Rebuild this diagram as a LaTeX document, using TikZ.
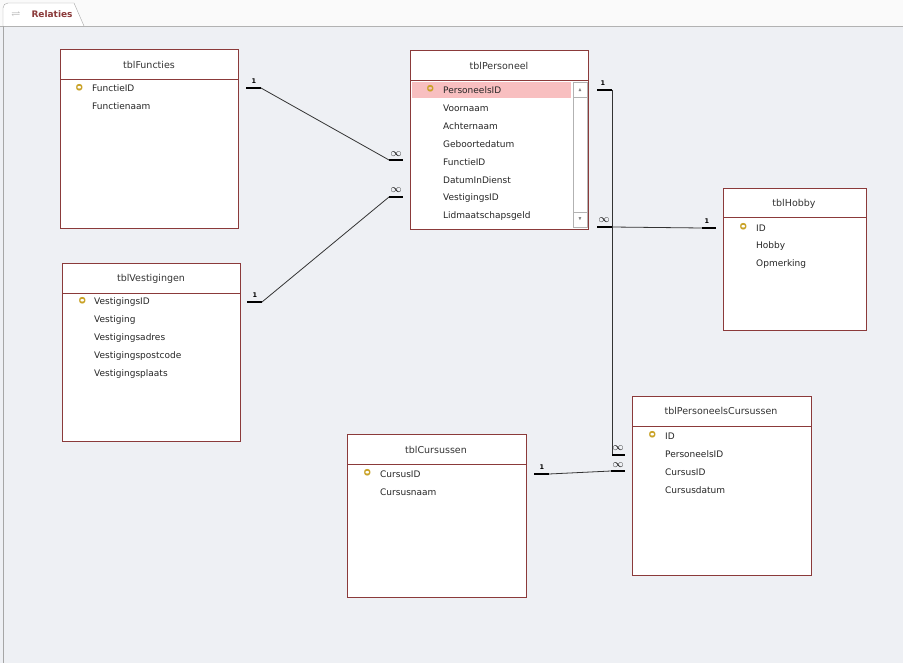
\documentclass[tikz,border=0pt]{standalone}
\usepackage{amssymb}
\usepackage{fontspec}
\setmainfont{DejaVu Sans}
\begin{document}
\begin{tikzpicture}[x=1pt,y=-1pt,
  tbl/.style={draw=brd,fill=white,line width=0.8pt},
  hdr/.style={font=\fontsize{9.5}{11}\selectfont,text=black!80},
  fld/.style={anchor=west,font=\fontsize{9}{11}\selectfont,inner sep=0pt,text=black!85},
  key/.style={anchor=west,font=\bfseries\fontsize{11}{11}\selectfont,inner sep=0pt,text=keyc},
  stub/.style={line width=2.4pt},
  lnk/.style={line width=0.8pt,black!80},
  card/.style={font=\bfseries\fontsize{6.5}{7}\selectfont,inner sep=0pt},
  inf/.style={font=\bfseries\fontsize{11}{11}\selectfont,inner sep=0pt}]
\definecolor{brd}{HTML}{8B3A3A}
\definecolor{bg}{HTML}{EEF0F4}
\definecolor{keyc}{HTML}{C9A227}
\definecolor{hl}{HTML}{F8BFC0}
\useasboundingbox (0,0) rectangle (903,663);
\fill[bg] (0,0) rectangle (903,663);
\fill[white!96!gray] (0,0) rectangle (903,26);
\draw[gray!60] (0,26) -- (903,26);
\draw[gray!70,fill=white] (3,26) -- (3,8) to[out=90,in=180] (8,3) -- (74,3) -- (84,26);
\draw[gray!70] (3,26) -- (3,663);
\node[anchor=west,text=brd,font=\bfseries\fontsize{9}{10}\selectfont] (tab) at (28,14) {Relaties};
\node[font=\small,text=gray] (tabicon) at (16,14) {$\rightleftharpoons$};

% tblFuncties
\draw[tbl] (60,49) rectangle (238,228); \draw[brd] (60,79) -- (238,79);
\node[hdr] (fh) at (149,65) {tblFuncties};
\node[key] (fk) at (76,88) {\rotatebox{90}{o}};
\node[fld] (f1) at (92,88) {FunctieID};
\node[fld] (f2) at (92,106) {Functienaam};

% tblPersoneel
\draw[tbl] (410,50) rectangle (588,229); \draw[brd] (410,80) -- (588,80);
\node[hdr] (ph) at (499,66) {tblPersoneel};
\fill[hl] (412,82) rectangle (571,98);
\draw[gray!60,fill=white] (573,82) rectangle (587,227);
\draw[gray!60] (573,97) -- (587,97) (573,212) -- (587,212);
\node[font=\tiny,text=gray] (up) at (580,90) {$\blacktriangle$};
\node[font=\tiny,text=gray] (dn) at (580,219) {$\blacktriangledown$};
\node[key] (pk) at (427,89) {\rotatebox{90}{o}};
\foreach \t [count=\i from 0] in {PersoneelsID,Voornaam,Achternaam,Geboortedatum,FunctieID,DatumInDienst,VestigingsID,Lidmaatschapsgeld}
  \node[fld] (p\i) at (443,90+18*\i) {\t};

% tblHobby
\draw[tbl] (723,188) rectangle (866,330); \draw[brd] (723,217) -- (866,217);
\node[hdr] (hh) at (794,204) {tblHobby};
\node[key] (hk) at (740,227) {\rotatebox{90}{o}};
\foreach \t [count=\i from 0] in {ID,Hobby,Opmerking}
  \node[fld] (h\i) at (756,228+18*\i) {\t};

% tblVestigingen
\draw[tbl] (62,263) rectangle (240,441); \draw[brd] (62,293) -- (240,293);
\node[hdr] (vh) at (151,279) {tblVestigingen};
\node[key] (vk) at (79,301) {\rotatebox{90}{o}};
\foreach \t [count=\i from 0] in {VestigingsID,Vestiging,Vestigingsadres,Vestigingspostcode,Vestigingsplaats}
  \node[fld] (v\i) at (94,302+18*\i) {\t};

% tblCursussen
\draw[tbl] (347,434) rectangle (526,597); \draw[brd] (347,464) -- (526,464);
\node[hdr] (ch) at (436,450) {tblCursussen};
\node[key] (ck) at (364,473) {\rotatebox{90}{o}};
\foreach \t [count=\i from 0] in {CursusID,Cursusnaam}
  \node[fld] (c\i) at (380,474+18*\i) {\t};

% tblPersoneelsCursussen
\draw[tbl] (632,396) rectangle (811,575); \draw[brd] (632,426) -- (811,426);
\node[hdr] (qh) at (721,411) {tblPersoneelsCursussen};
\node[key] (qk) at (649,435) {\rotatebox{90}{o}};
\foreach \t [count=\i from 0] in {ID,PersoneelsID,CursusID,Cursusdatum}
  \node[fld] (q\i) at (665,436+18*\i) {\t};

% connectors
\coordinate (a1) at (246,88); \coordinate (a2) at (261,88);
\coordinate (a3) at (389,160); \coordinate (a4) at (403,160);
\draw[stub] (a1) -- (a2); \draw[lnk] (a2) -- (a3); \draw[stub] (a3) -- (a4);
\node[card] (a1c) at (254,81) {1}; \node[inf] (a4c) at (396,154) {$\infty$};

\coordinate (b1) at (247,302); \coordinate (b2) at (262,302);
\coordinate (b3) at (389,197); \coordinate (b4) at (403,197);
\draw[stub] (b1) -- (b2); \draw[lnk] (b2) -- (b3); \draw[stub] (b3) -- (b4);
\node[card] (b1c) at (255,295) {1}; \node[inf] (b4c) at (396,190) {$\infty$};

\coordinate (d1) at (597,90); \coordinate (d2) at (612,90);
\coordinate (d3) at (612,455); \coordinate (d4) at (625,455);
\draw[stub] (d1) -- (d2); \draw[lnk] (d2) -- (d3); \draw[stub] (d3) -- (d4);
\node[card] (d1c) at (603,83) {1}; \node[inf] (d4c) at (618,448) {$\infty$};

\coordinate (e1) at (597,227); \coordinate (e2) at (612,227);
\coordinate (e3) at (702,228); \coordinate (e4) at (716,228);
\draw[stub] (e1) -- (e2); \draw[lnk] (e2) -- (e3); \draw[stub] (e3) -- (e4);
\node[inf] (e1c) at (604,220) {$\infty$}; \node[card] (e4c) at (707,221) {1};

\coordinate (g1) at (534,474); \coordinate (g2) at (549,474);
\coordinate (g3) at (611,471); \coordinate (g4) at (625,471);
\draw[stub] (g1) -- (g2); \draw[lnk] (g2) -- (g3); \draw[stub] (g3) -- (g4);
\node[card] (g1c) at (542,467) {1}; \node[inf] (g4c) at (618,465) {$\infty$};
\end{tikzpicture}
\end{document}
